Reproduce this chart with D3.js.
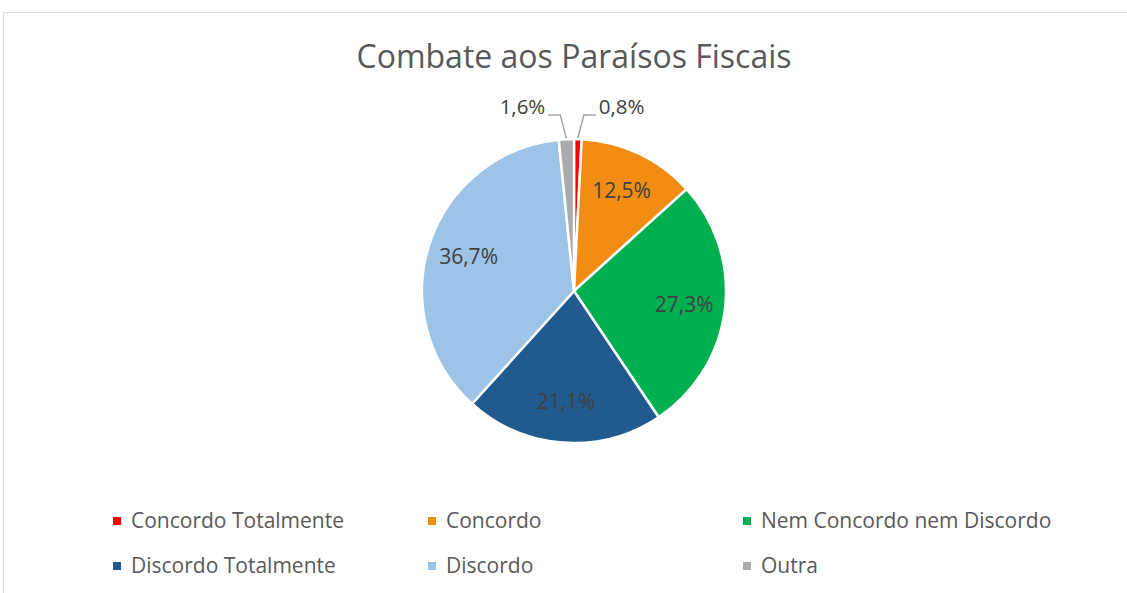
<!DOCTYPE html>
<html>
<head>
<meta charset="utf-8">
<script src="https://cdn.jsdelivr.net/npm/d3@7"></script>
<style>
  body { margin: 0; background: #fff; }
  text { font-family: "Open Sans", Calibri, sans-serif; }
</style>
</head>
<body>
<svg id="chart" width="1127" height="593"></svg>
<script>
const categorias = ["Concordo Totalmente", "Concordo", "Nem Concordo nem Discordo",
                    "Discordo Totalmente", "Discordo", "Outra"];
const valores = [0.8, 12.5, 27.3, 21.1, 36.7, 1.6];
const cores = ["#FF0000", "#F18D12", "#00B050", "#215A8F", "#9DC3E6", "#ABABAB"];

const svg = d3.select("#chart");

// moldura do gráfico
svg.append("rect")
    .attr("x", 3.5).attr("y", 12.5)
    .attr("width", 1140).attr("height", 600)
    .attr("fill", "#fff")
    .attr("stroke", "#d9d9d9");

svg.append("text")
    .attr("x", 574).attr("y", 68)
    .attr("text-anchor", "middle")
    .attr("fill", "#595959")
    .attr("font-size", 32)
    .text("Combate aos Paraísos Fiscais");

const cx = 574, cy = 291, raio = 152;
const fmt = v => d3.format(".1f")(v).replace(".", ",") + "%";

const pie = d3.pie().sort(null).value(d => d.v);
const arco = d3.arc().innerRadius(0).outerRadius(raio);
const dados = pie(valores.map((v, i) => ({ v, cat: categorias[i], cor: cores[i] })));

const g = svg.append("g").attr("transform", `translate(${cx},${cy})`);

g.selectAll("path.fatia")
    .data(dados)
    .enter()
    .append("path")
    .attr("class", "fatia")
    .attr("d", arco)
    .attr("fill", d => d.data.cor)
    .attr("stroke", "#fff")
    .attr("stroke-width", 2.5);

// rótulos internos
const arcoRot = d3.arc().innerRadius(raio * 0.73).outerRadius(raio * 0.73);
g.selectAll("text.rot")
    .data(dados.filter(d => d.data.v > 5))
    .enter()
    .append("text")
    .attr("class", "rot")
    .attr("transform", d => `translate(${arcoRot.centroid(d)})`)
    .attr("text-anchor", "middle")
    .attr("dy", "0.35em")
    .attr("fill", "#404040")
    .attr("font-size", 21)
    .text(d => fmt(d.data.v));

// rótulos externos com linhas de chamada
const pequenos = dados.filter(d => d.data.v <= 5);
pequenos.forEach(d => {
    const ang = (d.startAngle + d.endAngle) / 2;
    const p0 = [Math.sin(ang) * (raio + 1), -Math.cos(ang) * (raio + 1)];
    const dir = Math.sin(ang) >= 0 ? 1 : -1;
    const yLinha = -raio - 24;
    const p1 = [p0[0] + dir * 6, yLinha];
    const p2 = [p1[0] + dir * 12, yLinha];
    g.append("polyline")
        .attr("points", [p0, p1, p2].map(p => p.join(",")).join(" "))
        .attr("fill", "none")
        .attr("stroke", "#a6a6a6")
        .attr("stroke-width", 1.5);
    g.append("text")
        .attr("x", p2[0] + dir * 3)
        .attr("y", yLinha - 1)
        .attr("text-anchor", dir > 0 ? "start" : "end")
        .attr("fill", "#404040")
        .attr("font-size", 20.5)
        .text(fmt(d.data.v));
});

// legenda
const leg = svg.append("g");
const itens = leg.selectAll("g.item")
    .data(categorias.map((c, i) => ({ c, cor: cores[i], i })))
    .enter()
    .append("g")
    .attr("class", "item")
    .attr("transform", d => `translate(${113 + (d.i % 3) * 315},${521 + Math.floor(d.i / 3) * 45})`);

itens.append("rect")
    .attr("x", 0).attr("y", -4)
    .attr("width", 8).attr("height", 8)
    .attr("fill", d => d.cor);

itens.append("text")
    .attr("x", 18)
    .attr("dy", "0.35em")
    .attr("fill", "#595959")
    .attr("font-size", 21)
    .text(d => d.c);
</script>
</body>
</html>
